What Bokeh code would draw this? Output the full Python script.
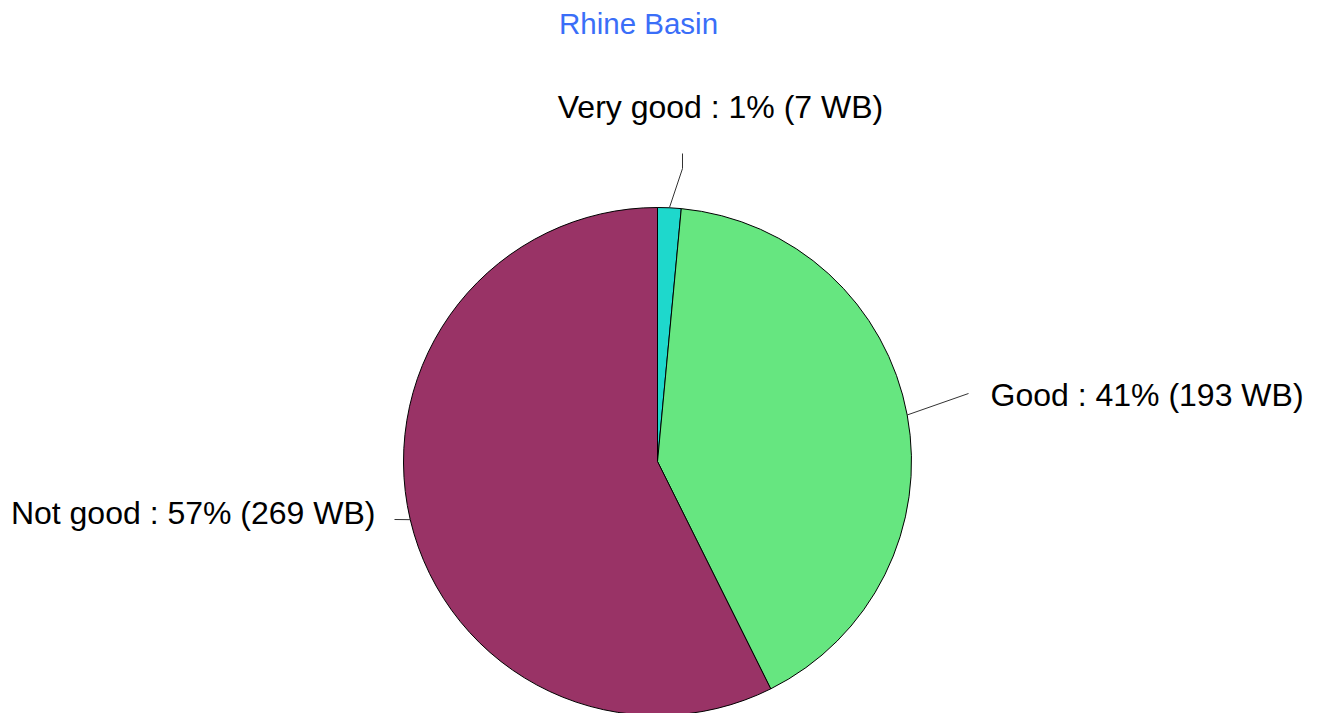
import math

from bokeh.plotting import figure
from bokeh.models import Range1d, ColumnDataSource
from bokeh.core.properties import value
from bokeh.embed import file_html
from bokeh.resources import INLINE

# Water bodies per ecological status class
categories = ["Very good", "Good", "Not good"]
water_bodies = [7, 193, 269]
colors = ["#1ed8cc", "#66e680", "#993366"]
title_text = "Rhine Basin"

W, H = 1320, 713
CX, CY, R = 657, 461, 254  # pie centre and radius, in pixels

# Label layout (pixel positions): leader line bends/ends and text anchors
leader_tails = [[(682, 168), (682, 153)], [(968, 393)], [(394, 519)]]
label_anchor = [(720, 106), (990, 394), (375, 512)]
label_align = ["center", "left", "right"]


def dx(px):
    return (px - CX) / R


def dy(py):
    return (CY - py) / R


p = figure(
    width=W, height=H,
    x_range=Range1d(dx(0), dx(W)), y_range=Range1d(dy(H), dy(0)),
    x_axis_type=None, y_axis_type=None,
    output_backend="svg", toolbar_location=None, min_border=0,
)
p.grid.visible = False
p.outline_line_color = None
p.background_fill_color = "white"
p.border_fill_color = "white"

total = sum(water_bodies)
starts, ends, mids = [], [], []
cum = 0
for n in water_bodies:
    a0 = cum / total
    cum += n
    a1 = cum / total
    starts.append(math.pi / 2 - 2 * math.pi * a0)
    ends.append(math.pi / 2 - 2 * math.pi * a1)
    mids.append(2 * math.pi * (a0 + a1) / 2)  # clockwise from 12 o'clock

src = ColumnDataSource(dict(
    start=starts, end=ends, color=colors, cat=categories, n=water_bodies,
))
p.wedge(x=0, y=0, radius=1, start_angle="start", end_angle="end",
        direction="clock", fill_color="color", line_color="black",
        line_width=1, source=src)

# Leader lines from each slice's rim to its label
xs, ys = [], []
for th, tail in zip(mids, leader_tails):
    px = [math.sin(th)] + [dx(t[0]) for t in tail]
    py = [math.cos(th)] + [dy(t[1]) for t in tail]
    xs.append(px)
    ys.append(py)
p.multi_line(xs=xs, ys=ys, line_color="#333333", line_width=1)

# Slice labels
for cat, n, (ax, ay), al in zip(categories, water_bodies, label_anchor, label_align):
    pct = round(100 * n / total)
    p.text(x=[dx(ax)], y=[dy(ay)], text=[f"{cat} : {pct}% ({n} WB)"],
           text_align=al, text_baseline="alphabetic",
           text_font=value("Liberation Sans"), text_font_size="32px",
           text_color="black")

# Title
p.text(x=[dx(638)], y=[dy(23)], text=[title_text],
       text_align="center", text_baseline="alphabetic",
       text_font=value("Liberation Sans"), text_font_size="29.5px",
       text_color="#3a6ef8")

open("out.html", "w").write(file_html(p, INLINE))
